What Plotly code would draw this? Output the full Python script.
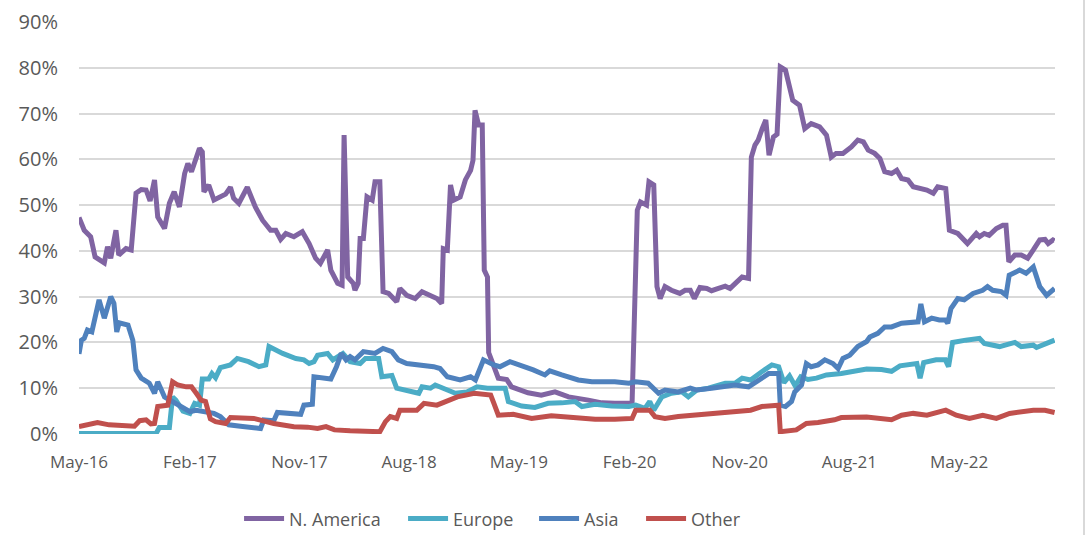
import plotly.graph_objects as go

# ---------------- data (values in %) ----------------
NA_DATES = ["2016-05-01","2016-05-14","2016-05-30","2016-06-10","2016-07-03","2016-07-11","2016-07-19","2016-08-01","2016-08-08","2016-08-26","2016-09-08","2016-09-20","2016-10-03","2016-10-15","2016-10-25","2016-11-05","2016-11-13","2016-11-30","2016-12-12","2016-12-24","2017-01-06","2017-01-19","2017-01-27","2017-02-05","2017-02-25","2017-03-04","2017-03-08","2017-03-20","2017-04-02","2017-05-01","2017-05-13","2017-05-21","2017-06-03","2017-06-24","2017-07-14","2017-08-01","2017-08-21","2017-09-03","2017-09-15","2017-09-28","2017-10-18","2017-11-08","2017-11-25","2017-12-11","2017-12-23","2018-01-10","2018-01-18","2018-02-04","2018-02-15","2018-02-20","2018-03-01","2018-03-15","2018-03-19","2018-03-27","2018-04-01","2018-04-09","2018-04-18","2018-05-01","2018-05-08","2018-05-20","2018-05-28","2018-06-11","2018-07-01","2018-07-09","2018-07-26","2018-08-16","2018-09-02","2018-09-19","2018-10-09","2018-10-21","2018-10-25","2018-11-04","2018-11-12","2018-11-20","2018-12-06","2018-12-19","2019-01-01","2019-01-07","2019-01-12","2019-01-21","2019-01-30","2019-02-04","2019-02-12","2019-02-15","2019-03-03","2019-03-11","2019-04-01","2019-04-13","2019-05-24","2019-06-26","2019-07-30","2019-09-02","2019-10-21","2019-11-24","2019-12-26","2020-02-07","2020-02-20","2020-02-28","2020-03-14","2020-03-20","2020-04-01","2020-04-09","2020-04-17","2020-04-29","2020-05-15","2020-06-05","2020-06-18","2020-07-01","2020-07-11","2020-07-25","2020-08-11","2020-08-23","2020-09-09","2020-09-26","2020-10-08","2020-10-20","2020-11-07","2020-11-23","2020-11-30","2020-12-09","2020-12-17","2020-12-27","2021-01-05","2021-01-13","2021-01-24","2021-02-02","2021-02-08","2021-02-10","2021-02-23","2021-03-13","2021-03-30","2021-04-12","2021-04-28","2021-05-19","2021-06-05","2021-06-17","2021-06-29","2021-07-16","2021-08-06","2021-08-22","2021-09-05","2021-09-17","2021-10-03","2021-10-16","2021-10-28","2021-11-14","2021-11-27","2021-12-09","2021-12-25","2022-01-07","2022-02-10","2022-02-26","2022-03-09","2022-03-29","2022-04-07","2022-04-28","2022-05-22","2022-06-13","2022-06-21","2022-07-03","2022-07-15","2022-08-02","2022-08-18","2022-08-26","2022-09-02","2022-09-17","2022-10-03","2022-10-19","2022-11-02","2022-11-18","2022-12-01","2022-12-09","2022-12-21","2022-12-25"]
NA_VALUES = [47.3,44.5,43.1,38.7,37.4,40.9,38.4,44.5,39.1,40.5,40.2,52.6,53.4,53.3,50.9,55.5,47.4,44.9,50.4,52.9,49.6,56.9,59.1,57.3,62.4,61.6,52.9,54.4,51.1,52.4,53.9,51.5,50.4,53.9,49.6,46.7,44.5,44.5,42.5,43.8,43.1,44.2,41.6,38.4,37.3,40.2,35.8,32.9,32.5,65.3,34.3,32.9,31.4,32.9,42.7,42.7,51.8,51.1,55.1,55.1,31.1,30.7,28.9,31.8,30.3,29.6,31.1,30.3,29.6,28.5,40.5,40.2,54.4,51.1,51.8,55.5,57.6,59.8,70.7,67.5,67.5,35.8,34.3,17.8,14.0,12.2,11.9,10.3,9.0,8.5,9.2,8.1,7.4,6.8,6.7,6.7,48.9,50.7,50.0,55.1,54.4,32.2,29.6,32.2,31.4,30.7,31.4,31.4,29.6,32.0,31.8,31.3,31.8,32.3,31.8,32.9,34.3,34.0,60.5,63.1,64.2,66.7,68.6,60.9,64.9,65.5,80.0,80.2,79.5,72.9,71.8,66.7,67.8,67.1,65.3,60.5,61.3,61.3,62.7,64.2,63.8,62.0,61.3,60.2,57.3,56.9,57.6,55.8,55.5,54.0,53.3,52.6,54.0,53.6,44.5,43.8,41.6,43.8,43.1,43.8,43.4,44.9,45.6,45.6,37.6,39.1,39.1,38.4,40.2,42.4,42.5,41.6,42.4,42.2]

EU_DATES = ["2016-05-01","2016-11-09","2016-11-17","2016-12-12","2016-12-20","2016-12-28","2017-01-15","2017-02-01","2017-02-13","2017-02-25","2017-03-04","2017-03-20","2017-03-28","2017-04-06","2017-04-18","2017-05-13","2017-05-30","2017-06-27","2017-07-23","2017-08-09","2017-08-17","2017-09-20","2017-10-23","2017-11-12","2017-11-25","2017-12-07","2017-12-16","2018-01-10","2018-01-23","2018-02-17","2018-03-07","2018-04-01","2018-04-14","2018-05-17","2018-05-25","2018-06-19","2018-07-01","2018-08-04","2018-08-25","2018-09-02","2018-09-23","2018-10-05","2018-10-25","2018-11-24","2018-12-23","2019-01-17","2019-02-12","2019-03-28","2019-04-05","2019-05-08","2019-06-10","2019-07-13","2019-08-16","2019-09-18","2019-10-05","2019-11-07","2019-12-18","2020-01-30","2020-02-16","2020-03-10","2020-03-22","2020-04-01","2020-04-21","2020-05-15","2020-06-10","2020-06-26","2020-07-17","2020-08-15","2020-09-26","2020-10-20","2020-11-07","2020-11-28","2020-12-26","2021-01-20","2021-02-06","2021-02-19","2021-03-05","2021-03-19","2021-04-02","2021-04-20","2021-05-11","2021-06-05","2021-07-12","2021-08-15","2021-09-13","2021-10-20","2021-11-14","2021-12-05","2022-01-16","2022-01-24","2022-02-02","2022-03-05","2022-03-28","2022-04-05","2022-04-15","2022-05-18","2022-06-21","2022-07-03","2022-08-10","2022-09-17","2022-10-03","2022-11-02","2022-11-10","2022-12-05","2022-12-25"]
EU_VALUES = [0.1,0.1,1.4,1.4,8.1,7.4,5.0,4.5,6.7,6.3,12.0,12.0,13.2,12.3,14.5,15.1,16.5,15.8,14.7,15.1,19.1,17.6,16.5,16.2,15.4,15.8,17.2,17.6,16.2,17.6,15.8,15.4,16.5,16.5,12.5,12.8,10.0,9.2,8.9,10.3,10.0,10.7,10.0,8.9,9.2,10.3,10.0,10.0,7.1,6.1,5.8,6.7,6.8,7.1,6.0,6.5,6.1,6.0,6.3,5.6,7.1,5.2,8.1,8.9,9.2,8.1,9.6,10.0,11.1,11.1,12.2,11.8,13.6,15.1,14.7,11.2,12.7,10.5,12.5,11.9,12.2,12.9,13.2,13.6,14.2,14.1,13.7,14.9,15.4,12.2,15.6,16.2,16.2,14.7,20.0,20.5,20.9,19.8,19.1,20.0,19.1,19.4,18.9,19.8,20.5]

ASIA_DATES = ["2016-05-01","2016-05-07","2016-05-14","2016-05-22","2016-06-02","2016-06-20","2016-07-03","2016-07-19","2016-07-27","2016-08-03","2016-08-09","2016-08-31","2016-09-12","2016-09-20","2016-10-03","2016-10-23","2016-11-05","2016-11-13","2016-11-30","2016-12-20","2017-01-15","2017-02-01","2017-02-17","2017-03-12","2017-04-02","2017-04-18","2017-05-09","2017-06-07","2017-07-27","2017-08-04","2017-08-29","2017-09-07","2017-11-04","2017-11-12","2017-12-03","2017-12-07","2018-01-10","2018-01-18","2018-02-01","2018-02-13","2018-02-25","2018-03-07","2018-03-19","2018-04-09","2018-05-08","2018-05-28","2018-06-19","2018-07-05","2018-07-26","2018-08-28","2018-10-01","2018-10-17","2018-11-04","2018-12-06","2019-01-01","2019-01-13","2019-02-02","2019-02-28","2019-03-15","2019-04-09","2019-05-04","2019-06-06","2019-07-05","2019-07-17","2019-08-16","2019-09-26","2019-10-30","2019-12-26","2020-01-30","2020-02-16","2020-03-18","2020-04-13","2020-04-29","2020-06-01","2020-07-01","2020-07-17","2020-08-23","2020-09-26","2020-10-20","2020-11-23","2020-12-17","2021-01-12","2021-02-06","2021-02-10","2021-02-23","2021-03-10","2021-03-18","2021-04-04","2021-04-16","2021-04-28","2021-05-15","2021-06-01","2021-06-21","2021-07-04","2021-07-16","2021-08-02","2021-08-22","2021-09-13","2021-09-21","2021-10-11","2021-10-28","2021-11-14","2021-12-09","2022-01-07","2022-01-19","2022-01-26","2022-02-04","2022-02-22","2022-03-13","2022-03-28","2022-04-03","2022-04-11","2022-04-28","2022-05-14","2022-06-05","2022-06-29","2022-07-11","2022-07-24","2022-08-14","2022-08-26","2022-09-03","2022-09-29","2022-10-15","2022-11-02","2022-11-18","2022-12-05","2022-12-25"]
ASIA_VALUES = [17.5,20.5,20.9,22.7,22.3,29.3,25.3,30.0,28.5,22.3,24.3,23.8,20.5,14.0,12.2,11.1,8.9,11.4,8.1,7.1,6.0,4.9,5.2,4.9,4.5,3.8,2.0,1.7,1.2,3.1,2.9,4.7,4.3,6.3,6.5,12.5,12.2,12.0,14.7,17.6,16.2,16.9,16.2,18.0,17.6,18.7,18.0,16.2,15.4,15.1,14.7,14.3,12.5,11.8,12.5,11.8,16.2,15.1,14.7,15.8,15.1,14.0,12.9,13.8,12.9,11.8,11.4,11.4,11.1,11.4,11.1,8.9,9.6,9.2,10.0,9.6,10.0,10.3,10.7,10.3,11.8,13.2,13.2,6.3,6.0,7.1,9.2,10.7,15.4,14.7,15.1,16.2,15.4,14.3,16.5,17.2,19.1,20.2,21.2,22.0,23.4,23.4,24.2,24.5,24.5,28.4,24.5,25.3,24.9,24.9,24.2,27.4,29.6,29.3,30.7,31.4,32.2,31.4,31.1,30.3,34.7,35.8,35.1,36.5,32.2,30.3,31.8]

OTHER_DATES = ["2016-05-01","2016-05-18","2016-06-16","2016-07-15","2016-08-09","2016-09-16","2016-09-29","2016-10-15","2016-10-27","2016-11-05","2016-11-13","2016-12-08","2016-12-20","2017-01-02","2017-01-23","2017-02-05","2017-02-17","2017-03-01","2017-03-12","2017-03-24","2017-04-06","2017-05-01","2017-05-13","2017-07-10","2017-08-29","2017-10-18","2017-11-21","2017-12-16","2018-01-06","2018-01-27","2018-03-07","2018-04-18","2018-05-20","2018-06-03","2018-06-15","2018-07-01","2018-07-09","2018-08-20","2018-09-07","2018-10-09","2018-11-04","2018-11-29","2019-01-10","2019-02-20","2019-02-28","2019-03-11","2019-04-17","2019-06-02","2019-07-21","2019-09-18","2019-11-07","2019-12-26","2020-02-07","2020-02-16","2020-03-22","2020-04-04","2020-04-29","2020-06-01","2020-07-09","2020-08-15","2020-09-22","2020-10-29","2020-11-28","2020-12-26","2021-02-06","2021-02-10","2021-03-22","2021-04-16","2021-05-15","2021-06-25","2021-07-12","2021-09-13","2021-11-14","2021-12-09","2022-01-07","2022-02-10","2022-03-29","2022-04-24","2022-05-27","2022-06-29","2022-08-02","2022-09-04","2022-11-02","2022-12-01","2022-12-25"]
OTHER_VALUES = [1.6,2.0,2.5,2.0,1.8,1.7,2.9,3.1,2.2,2.3,6.0,6.3,11.4,10.7,10.3,10.3,8.9,7.4,7.1,3.3,2.7,2.3,3.6,3.4,2.3,1.6,1.5,1.2,1.6,0.9,0.7,0.5,0.5,2.7,3.8,3.4,5.2,5.2,6.7,6.3,7.1,8.1,8.9,8.5,6.7,4.1,4.3,3.4,4.0,3.6,3.2,3.2,3.4,5.2,5.2,3.8,3.4,3.8,4.1,4.5,4.9,5.2,5.2,6.0,6.3,0.5,0.9,2.3,2.5,3.1,3.6,3.7,3.1,4.1,4.5,4.1,5.2,4.1,3.4,4.1,3.4,4.5,5.2,5.2,4.7]

TICK_DATES = ["2016-05-01","2017-02-01","2017-11-01","2018-08-01","2019-05-01","2020-02-01","2020-11-01","2021-08-01","2022-05-01"]
TICK_LABELS = ["May-16","Feb-17","Nov-17","Aug-18","May-19","Feb-20","Nov-20","Aug-21","May-22"]
Y_TICKS = [0,10,20,30,40,50,60,70,80,90]
Y_LABELS = ["0%","10%","20%","30%","40%","50%","60%","70%","80%","90%"]

SERIES = [
    ("N. America", NA_DATES, NA_VALUES, "#8064A2", 109),
    ("Europe", EU_DATES, EU_VALUES, "#4BACC6", 76),
    ("Asia", ASIA_DATES, ASIA_VALUES, "#4F81BD", 52),
    ("Other", OTHER_DATES, OTHER_VALUES, "#C0504D", 50),
]

FONT = "Open Sans, Arial, sans-serif"
GREY_TXT = "#595959"

fig = go.Figure()
for name, xs, ys, col, lw in SERIES:
    fig.add_trace(go.Scatter(x=xs, y=ys, name=name, mode="lines",
                             line=dict(color=col, width=5), legendwidth=lw))

fig.update_layout(
    width=1090, height=535,
    margin=dict(l=79, r=35, t=22, b=101, autoexpand=False),
    paper_bgcolor="white", plot_bgcolor="white",
    font=dict(family=FONT, size=17, color=GREY_TXT),
    showlegend=True,
    legend=dict(orientation="h", x=0.164, xanchor="left", y=-0.206, yanchor="middle",
                font=dict(size=18, color=GREY_TXT), itemwidth=40, traceorder="normal"),
    shapes=[dict(type="line", xref="paper", yref="paper",
                 x0=1.0297, x1=1.0297, y0=-0.25, y1=1.06,
                 line=dict(color="#D9D9D9", width=2))],
)
fig.update_xaxes(type="date", range=["2016-05-01", "2022-12-26"],
                 tickvals=TICK_DATES, ticktext=TICK_LABELS,
                 showgrid=False, zeroline=False, showline=False,
                 ticks="", ticklabelstandoff=16,
                 tickfont=dict(size=17, color=GREY_TXT))
fig.update_yaxes(range=[0, 90], tickvals=Y_TICKS, ticktext=Y_LABELS,
                 showgrid=True, gridcolor="#D9D9D9", gridwidth=1.5,
                 zeroline=False, showline=False, ticks="",
                 ticklabelstandoff=20,
                 tickfont=dict(size=20, color=GREY_TXT))

fig.write_html("out.html")
